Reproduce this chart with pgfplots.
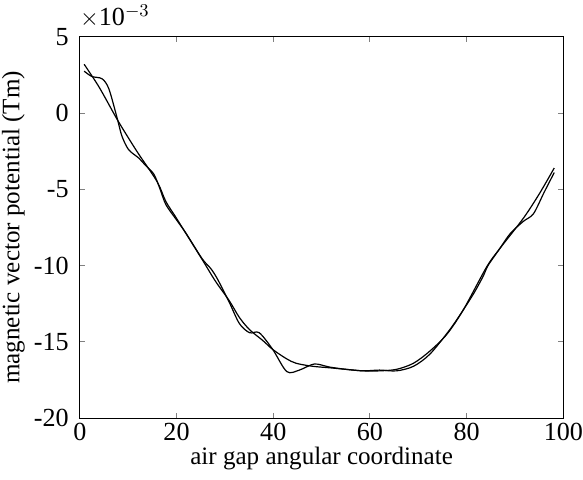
\documentclass[border=0pt]{standalone}
\usepackage{pgfplots}
\pgfplotsset{compat=1.18}
\usepackage{fontspec}
\setmainfont{Liberation Serif}

\begin{document}
\fontsize{13}{15}\selectfont
\begin{tikzpicture}
\begin{axis}[
  scale only axis,
  width=241pt, height=190pt,
  xmin=0, xmax=100, ymin=-20, ymax=5,
  xtick={0,20,40,60,80,100},
  ytick={-20,-15,-10,-5,0,5},
  tick align=inside,
  major tick length=2.5pt,
  tick style={line width=0.5pt},
  axis line style={line width=0.6pt},
  /pgf/number format/assume math mode=true,
  ticklabel style={font=\fontsize{13}{15}\selectfont},
  xticklabel style={yshift=2pt, inner xsep=0pt},
  yticklabel style={xshift=-1pt},
  xlabel={air gap angular coordinate},
  ylabel={magnetic vector potential (Tm)},
  xlabel style={yshift=5.5pt},
  ylabel style={yshift=-1pt, inner ysep=1pt},
  label style={font=\fontsize{12.5}{15}\selectfont},
  clip=false,
]
\node[anchor=south west, inner ysep=2.5pt, inner xsep=0pt, font=\fontsize{13}{15}\selectfont] at (rel axis cs:0,1) [yshift=2pt] {$\times$10$^{-3}$};
% smooth curve
\addplot[black, line width=0.6pt, smooth] coordinates {
(0.9,3.2) (4,1.7) (7.7,-0.4) (10,-1.6) (12.2,-2.7) (16,-4.5) (17.8,-5.8)
(20,-6.9) (25.3,-9.6) (28,-11.0) (30.9,-12.3) (33,-13.4) (35.1,-14.2)
(37.8,-14.9) (39.9,-15.5) (42.7,-16.1) (44.7,-16.4) (48.1,-16.6)
(51.7,-16.7) (55,-16.8) (58.6,-16.9) (62,-16.9) (65.5,-16.8) (69,-16.4)
(72.4,-15.6) (75.9,-14.5) (79.3,-12.9) (84.1,-10.1) (86.8,-8.9)
(91.7,-6.9) (95,-5.3) (98.1,-3.6)
};
% rippled curve
\addplot[black, line width=0.6pt, smooth] coordinates {
(0.9,2.75) (2.5,2.4) (4.6,2.25) (6,1.6) (7.7,-0.3) (8.7,-1.5) (10.1,-2.4)
(12.2,-2.95) (13.5,-3.4) (15.3,-4.0) (16.5,-4.9) (17.8,-6.0) (20,-7.0)
(22,-7.9) (25.3,-9.55) (27.1,-10.2) (28.5,-10.9) (30.9,-12.4) (33,-13.8)
(35.1,-14.4) (37.1,-14.4) (39.9,-15.5) (42.8,-16.95) (45.4,-16.85)
(48.5,-16.45) (51.6,-16.65) (55,-16.8) (58.6,-16.9) (62,-16.85)
(65.5,-16.9) (69,-16.6) (72.4,-15.8) (76.5,-14.2) (79.3,-12.9)
(81.5,-11.8) (83.4,-10.7) (84.4,-10.0) (86.8,-8.9) (89,-7.9)
(91.7,-7.1) (93.8,-6.6) (96,-5.2) (98.1,-3.9)
};
\end{axis}
\end{tikzpicture}
\end{document}
